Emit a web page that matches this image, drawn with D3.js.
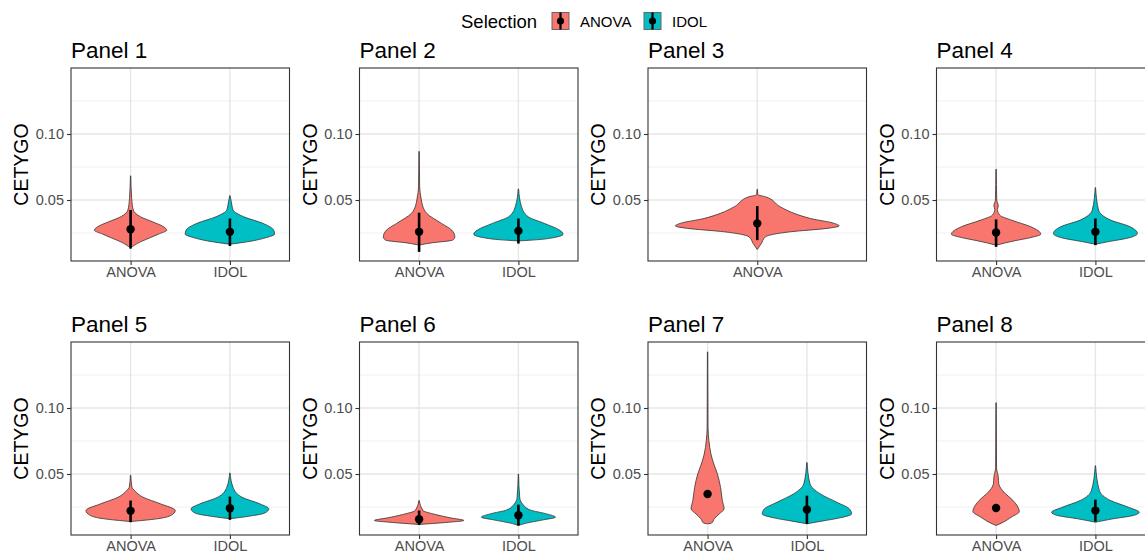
<!DOCTYPE html>
<meta charset="utf-8">
<head>
<style>
  body { margin: 0; background: white; }
  text { font-family: "Liberation Sans", Arial, sans-serif; }
</style>
</head>
<body>
<div id="chart"></div>
<script src="https://d3js.org/d3.v7.min.js"></script>
<script>

// panel titles and groups shown in each panel
var panelTitles = ["Panel 1", "Panel 2", "Panel 3", "Panel 4", "Panel 5", "Panel 6", "Panel 7", "Panel 8"];
var panelGroups = [
  ["ANOVA", "IDOL"], ["ANOVA", "IDOL"], ["ANOVA"], ["ANOVA", "IDOL"],
  ["ANOVA", "IDOL"], ["ANOVA", "IDOL"], ["ANOVA", "IDOL"], ["ANOVA", "IDOL"]
];

// violin outlines: [CETYGO, relative width], top to bottom
var violinANOVA = [
  [[0.0683,0.004],[0.051,0.025],[0.0424,0.06],[0.0373,0.22],[0.0335,0.49],[0.0297,0.74],[0.0272,0.81],[0.0241,0.62],[0.0216,0.45],[0.0183,0.22],[0.0137,0]],
  [[0.0868,0.004],[0.06,0.012],[0.0513,0.045],[0.0455,0.08],[0.0399,0.17],[0.0323,0.5],[0.0272,0.73],[0.022,0.8],[0.0196,0.75],[0.0175,0.27],[0.0158,0]],
  [[0.0581,0.003],[0.054,0.008],[0.0525,0.1],[0.0449,0.28],[0.0399,0.45],[0.036,0.65],[0.0323,0.94],[0.0304,1.0],[0.0285,0.85],[0.0259,0.4],[0.0221,0.1],[0.017,0.05],[0.0125,0]],
  [[0.0733,0.004],[0.05,0.015],[0.0455,0.05],[0.043,0.03],[0.0386,0.08],[0.0348,0.34],[0.0297,0.78],[0.0241,1.0],[0.0216,0.78],[0.019,0.4],[0.0158,0]],
  [[0.0492,0.004],[0.04,0.03],[0.0374,0.09],[0.0324,0.28],[0.0274,0.67],[0.0223,1.0],[0.0186,0.9],[0.0161,0.6],[0.014,0]],
  [[0.0299,0.004],[0.0223,0.09],[0.0193,0.37],[0.0168,0.7],[0.0148,1.0],[0.0133,0.6],[0.0118,0]],
  [[0.1425,0.004],[0.085,0.01],[0.0751,0.03],[0.0651,0.075],[0.0575,0.14],[0.05,0.22],[0.0399,0.29],[0.0299,0.33],[0.0236,0.37],[0.0198,0.26],[0.0161,0.15],[0.0128,0.09],[0.0123,0]],
  [[0.104,0.004],[0.055,0.01],[0.0475,0.05],[0.0425,0.06],[0.0361,0.18],[0.0299,0.38],[0.0248,0.49],[0.0216,0.52],[0.0173,0.34],[0.0135,0.16],[0.011,0]]
];
var violinIDOL = [
  [[0.0533,0.004],[0.047,0.04],[0.0424,0.07],[0.0373,0.31],[0.0323,0.74],[0.0272,0.98],[0.0241,1.0],[0.0216,0.82],[0.019,0.5],[0.0165,0]],
  [[0.0584,0.004],[0.0449,0.07],[0.0373,0.22],[0.0323,0.58],[0.0272,0.92],[0.0241,1.0],[0.0216,0.8],[0.02,0.45],[0.019,0]],
  null,
  [[0.0594,0.004],[0.0424,0.07],[0.0348,0.34],[0.0297,0.78],[0.0246,0.94],[0.0216,0.78],[0.0183,0.27],[0.0165,0]],
  [[0.0508,0.004],[0.0399,0.07],[0.0324,0.27],[0.0274,0.67],[0.0236,0.87],[0.0203,0.77],[0.0178,0.38],[0.0161,0]],
  [[0.05,0.004],[0.032,0.03],[0.0274,0.09],[0.0228,0.26],[0.0198,0.63],[0.0173,0.83],[0.0153,0.56],[0.0128,0.18],[0.011,0]],
  [[0.0587,0.004],[0.0425,0.07],[0.0349,0.3],[0.0286,0.67],[0.0236,0.95],[0.0198,1.0],[0.0168,0.74],[0.0143,0.33],[0.0123,0]],
  [[0.0563,0.004],[0.0374,0.09],[0.0299,0.34],[0.0248,0.74],[0.021,0.98],[0.0186,0.85],[0.0161,0.4],[0.0135,0]]
];

// point ranges (centre, low, high) per panel
var midANOVA = [0.0279, 0.0259, 0.0323, 0.0254, 0.0221, 0.0158, 0.0349, 0.0243];
var lowANOVA = [0.0132, 0.0107, 0.0196, 0.0145, 0.0135, 0.0115, null, null];
var highANOVA = [0.0424, 0.0404, 0.0454, 0.0353, 0.0299, 0.0223, null, null];
var midIDOL = [0.0259, 0.0266, null, 0.0259, 0.0241, 0.0188, 0.0231, 0.0223];
var lowIDOL = [0.0152, 0.017, null, 0.0158, 0.0153, 0.011, 0.0123, 0.014];
var highIDOL = [0.036, 0.036, null, 0.036, 0.0329, 0.0268, 0.0336, 0.0306];

var yTicks = [0.05, 0.10];
var yMinor = [0.025, 0.075, 0.125];
var yDomain = [0.0038, 0.1500];

var colors = {ANOVA: "#F8766D", IDOL: "#00BFC4"};

// layout
var W = 1145, H = 553;
var colLeft = [71, 359.5, 648, 936.5], panelW = 218.5;
var rowTop = [68, 342], panelH = 193;

var svg = d3.select("#chart").append("svg")
  .attr("width", W).attr("height", H);

// legend
var legend = svg.append("g");
legend.append("text").attr("x", 461).attr("y", 27.5)
  .style("font-size", "18.5px").text("Selection");
var legItems = [{k: "ANOVA", x: 552}, {k: "IDOL", x: 644}];
legItems.forEach(function(d) {
  legend.append("rect").attr("x", d.x).attr("y", 12.5).attr("width", 17).attr("height", 17)
    .attr("fill", colors[d.k]).attr("stroke", "#666").attr("stroke-width", 1);
  legend.append("line").attr("x1", d.x + 8.5).attr("x2", d.x + 8.5).attr("y1", 12.5).attr("y2", 29.5)
    .attr("stroke", "black").attr("stroke-width", 2.2);
  legend.append("circle").attr("cx", d.x + 8.5).attr("cy", 21).attr("r", 3.6).attr("fill", "black");
  legend.append("text").attr("x", d.x + 28).attr("y", 26.5)
    .style("font-size", "15px").text(d.k);
});

panelTitles.forEach(function(title, i) {
  var col = i % 4, row = Math.floor(i / 4);
  var left = colLeft[col], top = rowTop[row];
  var g = svg.append("g");

  var y = d3.scaleLinear().domain(yDomain).range([top + panelH, top]);
  var x = d3.scalePoint().domain(panelGroups[i]).range([left, left + panelW]).padding(0.6);
  var half = 0.45 * x.step();

  // grid
  g.selectAll(".minor").data(yMinor).enter().append("line")
    .attr("x1", left).attr("x2", left + panelW)
    .attr("y1", d => y(d)).attr("y2", d => y(d))
    .attr("stroke", "#ebebeb").attr("stroke-width", 0.7);
  g.selectAll(".major").data(yTicks).enter().append("line")
    .attr("x1", left).attr("x2", left + panelW)
    .attr("y1", d => y(d)).attr("y2", d => y(d))
    .attr("stroke", "#e6e6e6").attr("stroke-width", 1.4);
  g.selectAll(".vmajor").data(panelGroups[i]).enter().append("line")
    .attr("x1", d => x(d)).attr("x2", d => x(d))
    .attr("y1", top).attr("y2", top + panelH)
    .attr("stroke", "#e6e6e6").attr("stroke-width", 1.4);

  // violins
  panelGroups[i].forEach(function(grp) {
    var prof = grp === "ANOVA" ? violinANOVA[i] : violinIDOL[i];
    if (!prof) return;
    var cx = x(grp);
    var area = d3.area()
      .curve(d3.curveMonotoneY)
      .y(d => y(d[0]))
      .x0(d => cx - d[1] * half)
      .x1(d => cx + d[1] * half);
    g.append("path").datum(prof)
      .attr("d", area)
      .attr("fill", colors[grp])
      .attr("stroke", "#333333").attr("stroke-width", 0.8);
  });

  // point ranges
  panelGroups[i].forEach(function(grp) {
    var mid = grp === "ANOVA" ? midANOVA[i] : midIDOL[i];
    var lo = grp === "ANOVA" ? lowANOVA[i] : lowIDOL[i];
    var hi = grp === "ANOVA" ? highANOVA[i] : highIDOL[i];
    if (mid == null) return;
    var cx = x(grp);
    if (lo != null) {
      g.append("line").attr("x1", cx).attr("x2", cx)
        .attr("y1", y(lo)).attr("y2", y(hi))
        .attr("stroke", "black").attr("stroke-width", 2.6);
    }
    g.append("circle").attr("cx", cx).attr("cy", y(mid)).attr("r", 4.2).attr("fill", "black");
  });

  // panel border
  g.append("rect").attr("x", left).attr("y", top).attr("width", panelW).attr("height", panelH)
    .attr("fill", "none").attr("stroke", "#333333").attr("stroke-width", 1.1);

  // y axis
  var yAxis = g.append("g").attr("transform", "translate(" + left + ",0)")
    .call(d3.axisLeft(y).tickValues(yTicks).tickSize(4).tickPadding(3).tickFormat(d3.format(".2f")));
  yAxis.select(".domain").remove();
  yAxis.selectAll("line").attr("stroke", "#333333").attr("stroke-width", 1.1);
  yAxis.selectAll("text").attr("fill", "#4d4d4d").style("font-size", "14.5px")
    .style("font-family", "'Liberation Sans', Arial, sans-serif");

  // x axis
  var xAxis = g.append("g").attr("transform", "translate(0," + (top + panelH) + ")")
    .call(d3.axisBottom(x).tickSize(4).tickPadding(2));
  xAxis.select(".domain").remove();
  xAxis.selectAll("line").attr("stroke", "#333333").attr("stroke-width", 1.1);
  xAxis.selectAll("text").attr("fill", "#4d4d4d").style("font-size", "14.5px")
    .style("font-family", "'Liberation Sans', Arial, sans-serif");

  // titles
  g.append("text").attr("x", left).attr("y", top - 10)
    .style("font-size", "22.5px").text(title);
  g.append("text")
    .attr("transform", "translate(" + (left - 43) + "," + (top + panelH / 2) + ") rotate(-90)")
    .attr("text-anchor", "middle")
    .style("font-size", "19.5px").text("CETYGO");
});

</script>
</body>
